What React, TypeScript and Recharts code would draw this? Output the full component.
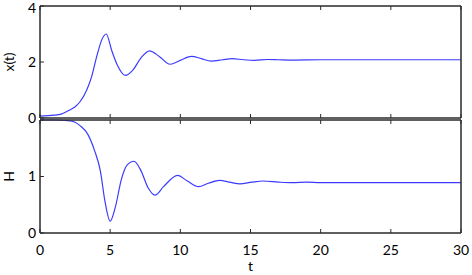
import React from 'react';
import { LineChart, Line, XAxis, YAxis } from 'recharts';

const topT = [0, 1, 1.5, 2.1, 2.5, 2.85, 3.33, 3.68, 4.04, 4.4, 4.72, 5.1, 5.5, 6.08, 6.6, 7.2, 7.8, 8.5, 9.27, 10, 10.8, 11.5, 12.2, 13, 13.7, 14.5, 15.3, 16.2, 17, 18, 20, 30];
const topX = [0.07, 0.1, 0.14, 0.28, 0.4, 0.58, 1.0, 1.48, 2.19, 2.79, 3.0, 2.43, 1.9, 1.52, 1.7, 2.15, 2.4, 2.2, 1.92, 2.06, 2.2, 2.12, 2.03, 2.08, 2.12, 2.08, 2.06, 2.09, 2.08, 2.07, 2.08, 2.08];

const botT = [0, 1, 2, 2.5, 2.85, 3.4, 3.9, 4.3, 4.63, 5.0, 5.35, 5.8, 6.2, 6.7, 7.2, 7.7, 8.2, 8.8, 9.8, 10.5, 11.3, 12, 12.8, 13.5, 14.25, 15.1, 15.9, 17, 18, 19, 20, 25, 30];
const botH = [2.0, 2.0, 1.99, 1.96, 1.9, 1.75, 1.45, 1.1, 0.56, 0.21, 0.44, 0.95, 1.2, 1.27, 1.1, 0.8, 0.67, 0.82, 1.02, 0.92, 0.82, 0.88, 0.93, 0.9, 0.87, 0.9, 0.92, 0.9, 0.89, 0.9, 0.89, 0.89, 0.89];

const xTicks = [0, 5, 10, 15, 20, 25, 30];
const topYTicks = [0, 2, 4];
const botYTicks = [0, 1, 2];

const topData = topT.map((t, i) => ({ t, v: topX[i] }));
const botData = botT.map((t, i) => ({ t, v: botH[i] }));

const FONT = 'Lato, "Open Sans", sans-serif';
const AX = '#2a2a2a';
const LINE = '#3b3bff';
const tickStyle = { fill: '#000', fontSize: 14, fontFamily: FONT };
const blank = () => '';
const axisLine = { stroke: AX, strokeWidth: 1.5 };
const tickLine = { stroke: AX, strokeWidth: 1 };

export default function App() {
  return (
    <div style={{ position: 'absolute', left: 0, top: 0, width: 472, height: 275 }}>
      <div style={{ position: 'absolute', left: 0, top: 0 }}>
        <LineChart width={472} height={140} data={topData} margin={{ top: 5, right: 10, left: 0, bottom: 21 }}>
          <XAxis xAxisId="b" dataKey="t" type="number" domain={[0, 30]} ticks={xTicks} orientation="bottom"
            height={1} tickSize={-4} tickFormatter={blank} axisLine={axisLine} tickLine={tickLine} tick={tickStyle} />
          <XAxis xAxisId="t" dataKey="t" type="number" domain={[0, 30]} ticks={xTicks} orientation="top"
            height={1} tickSize={-4} tickFormatter={blank} axisLine={axisLine} tickLine={tickLine} tick={tickStyle} />
          <YAxis yAxisId="l" type="number" domain={[0, 4]} ticks={topYTicks} orientation="left" width={40}
            tickSize={-4} tickMargin={8} axisLine={axisLine} tickLine={tickLine} tick={tickStyle}
            label={{ value: 'x(t)', angle: -90, position: 'center', dx: -11, fill: '#000', fontSize: 14, fontFamily: FONT }} />
          <YAxis yAxisId="r" type="number" domain={[0, 4]} ticks={topYTicks} orientation="right" width={1}
            tickSize={-4} tickFormatter={blank} axisLine={axisLine} tickLine={tickLine} tick={tickStyle} />
          <Line xAxisId="b" yAxisId="l" dataKey="v" type="monotone" stroke={LINE} strokeWidth={1.2} dot={false} isAnimationActive={false} />
        </LineChart>
      </div>
      <div style={{ position: 'absolute', left: 0, top: 0 }}>
        <LineChart width={472} height={275} data={botData} margin={{ top: 119, right: 10, left: 0, bottom: 0 }}>
          <XAxis xAxisId="b" dataKey="t" type="number" domain={[0, 30]} ticks={xTicks} orientation="bottom"
            height={42} tickSize={-4} tickMargin={16} axisLine={axisLine} tickLine={tickLine} tick={tickStyle}
            label={{ value: 't', position: 'insideBottom', offset: 4, fill: '#000', fontSize: 14, fontFamily: FONT }} />
          <XAxis xAxisId="t" dataKey="t" type="number" domain={[0, 30]} ticks={xTicks} orientation="top"
            height={1} tickSize={-4} tickFormatter={blank} axisLine={axisLine} tickLine={tickLine} tick={tickStyle} />
          <YAxis yAxisId="l" type="number" domain={[0, 2]} ticks={botYTicks} orientation="left" width={40}
            tickSize={-4} tickMargin={8} axisLine={axisLine} tickLine={tickLine} tick={tickStyle}
            tickFormatter={(v: number) => (v === 2 ? '' : String(v))}
            label={{ value: 'H', angle: -90, position: 'center', dx: -11, fill: '#000', fontSize: 14, fontFamily: FONT }} />
          <YAxis yAxisId="r" type="number" domain={[0, 2]} ticks={botYTicks} orientation="right" width={1}
            tickSize={-4} tickFormatter={blank} axisLine={axisLine} tickLine={tickLine} tick={tickStyle} />
          <Line xAxisId="b" yAxisId="l" dataKey="v" type="monotone" stroke={LINE} strokeWidth={1.2} dot={false} isAnimationActive={false} />
        </LineChart>
      </div>
    </div>
  );
}
